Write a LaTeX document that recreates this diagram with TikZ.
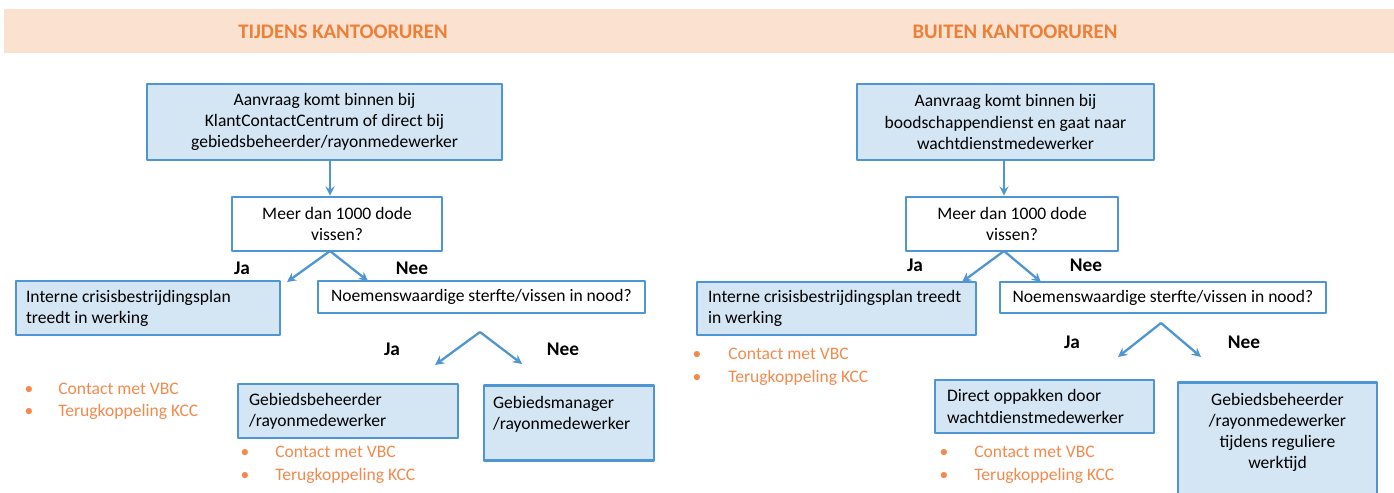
\documentclass[tikz,border=0pt]{standalone}
\usepackage{fontspec}
\setmainfont{Carlito}
\definecolor{kopband}{HTML}{FBE2D0}
\definecolor{koporanje}{HTML}{EE7F38}
\definecolor{lijstoranje}{HTML}{F28A4E}
\definecolor{blokvul}{HTML}{D4E5F4}
\definecolor{blokrand}{HTML}{4E95D3}
\begin{document}
\begin{tikzpicture}[x=0.02cm, y=-0.02cm, font=\fontsize{10}{12}\selectfont, line join=round, >=stealth,
	blok/.style={draw=blokrand, line width=1.6pt, fill=blokvul, inner sep=0pt},
	vraag/.style={blok, fill=white},
	maat/.style 2 args={minimum width=#1, minimum height=#2},
	pijl/.style={->, draw=blokrand, line width=1.3pt},
	tak/.style={font=\fontsize{11}{13}\selectfont\bfseries},
	kop/.style={font=\fontsize{11.8}{14}\selectfont\bfseries, text=koporanje},
	lijst/.style={text=lijstoranje, inner sep=0pt, anchor=base west}]
	\useasboundingbox (0,0) rectangle (1394,493);
	\clip (0,0) rectangle (1394,493);
	% kopband
	\fill[kopband] (4,9) rectangle (1394,53);
	\node[kop] (tijdens) at (343,32) {TIJDENS KANTOORUREN};
	\node[kop] (buiten) at (1015,32) {BUITEN KANTOORUREN};
	% tijdens kantooruren
	\node[blok, maat={7.1cm}{1.52cm}, align=center] (aanvraagL) at (324.5,122) {Aanvraag komt binnen bij\\KlantContactCentrum of direct bij\\gebiedsbeheerder/rayonmedewerker};
	\node[vraag, maat={4.2cm}{1.08cm}, align=center] (meerL) at (337,224) {Meer dan 1000 dode\\vissen?};
	\node[blok, maat={5.28cm}{1.08cm}, text width=4.88cm, align=flush left] (crisisL) at (148,308) {Interne crisisbestrijdingsplan\\treedt in werking};
	\node[vraag, maat={6.54cm}{0.64cm}] (sterfteL) at (481.5,297) {Noemenswaardige sterfte/vissen in nood?};
	\node[blok, maat={4.4cm}{1.08cm}, text width=3.96cm, align=flush left] (beheerL) at (348,411) {Gebiedsbeheerder\\/rayonmedewerker};
	\node[blok, anchor=north, minimum width=3.4cm, text width=3.04cm, align=flush left, inner ysep=6pt, text depth=24pt] (managerL) at (569,384) {Gebiedsmanager\\/rayonmedewerker};
	% buiten kantooruren
	\node[blok, maat={5.94cm}{1.52cm}, align=center] (aanvraagR) at (1005.5,122) {Aanvraag komt binnen bij\\boodschappendienst en gaat naar\\wachtdienstmedewerker};
	\node[vraag, maat={4.24cm}{1.08cm}, align=center] (meerR) at (1012,224) {Meer dan 1000 dode\\vissen?};
	\node[blok, maat={5.58cm}{1.06cm}, text width=5.14cm, align=flush left] (crisisR) at (836.5,308.5) {Interne crisisbestrijdingsplan treedt\\in werking};
	\node[vraag, maat={6.52cm}{0.62cm}] (sterfteR) at (1163,297.5) {Noemenswaardige sterfte/vissen in nood?};
	\node[blok, maat={4.38cm}{1.06cm}, text width=3.9cm, align=flush left] (direktR) at (1044.5,406.5) {Direct oppakken door\\wachtdienstmedewerker};
	\node[blok, anchor=north, minimum width=3.98cm, text width=3.58cm, align=flush center, inner ysep=6pt, text depth=60pt] (werktijdR) at (1277.5,381) {Gebiedsbeheerder\\/rayonmedewerker\\tijdens reguliere\\werktijd};
	% pijlen
	\coordinate (splitL1) at (330,251); \coordinate (jaL1) at (287,282); \coordinate (neeL1) at (368,281);
	\coordinate (splitL2) at (480,332); \coordinate (jaL2) at (435,365); \coordinate (neeL2) at (522,364);
	\coordinate (splitR1) at (1004,251); \coordinate (jaR1) at (962,282); \coordinate (neeR1) at (1041,282);
	\coordinate (splitR2) at (1161,323); \coordinate (jaR2) at (1118,357); \coordinate (neeR2) at (1201,357);
	\draw[pijl] (aanvraagL.south -| splitL1) -- (meerL.north -| splitL1);
	\draw[pijl] (aanvraagR.south -| splitR1) -- (meerR.north -| splitR1);
	\foreach \s/\e in {splitL1/jaL1,splitL1/neeL1,splitL2/jaL2,splitL2/neeL2,splitR1/jaR1,splitR1/neeR1,splitR2/jaR2,splitR2/neeR2}
		\draw[pijl] (\s) -- (\e);
	\node[tak] (tJaL1) at (242,268) {Ja};
	\node[tak] (tNeeL1) at (412,268) {Nee};
	\node[tak] (tJaL2) at (392,349) {Ja};
	\node[tak] (tNeeL2) at (563,349) {Nee};
	\node[tak] (tJaR1) at (915,265) {Ja};
	\node[tak] (tNeeR1) at (1086,265) {Nee};
	\node[tak] (tJaR2) at (1072,342) {Ja};
	\node[tak] (tNeeR2) at (1244,342) {Nee};
	% opsommingen
	\foreach \n/\bx/\tx/\ty in {a/29/58/390, b/245/275/453, c/697/728/355, d/944/974/453}{
		\node[lijst, anchor=base] (punt\n1) at (\bx,\ty+5) {•};
		\node[lijst] (vbc\n) at (\tx,\ty+5) {Contact met VBC};
		\node[lijst, anchor=base] (punt\n2) at (\bx,\ty+27) {•};
		\node[lijst] (kcc\n) at (\tx,\ty+27) {Terugkoppeling KCC};
	}
\end{tikzpicture}
\end{document}
